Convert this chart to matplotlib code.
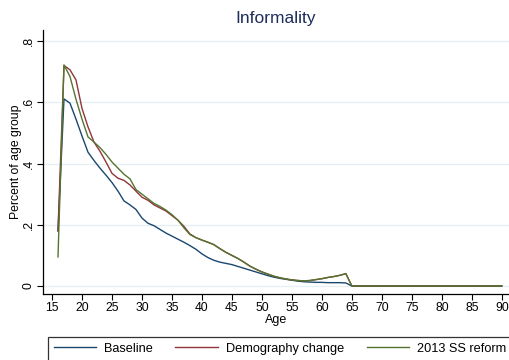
import matplotlib
matplotlib.use("Agg")
import matplotlib.pyplot as plt

plt.rcParams['font.family'] = ['Liberation Sans', 'DejaVu Sans']

ages = list(range(16, 91))

baseline = [0.180, 0.611, 0.597, 0.545, 0.490, 0.437, 0.410, 0.385, 0.362, 0.338,
            0.310, 0.278, 0.265, 0.250, 0.222, 0.205, 0.197, 0.185, 0.173, 0.163,
            0.153, 0.143, 0.132, 0.120, 0.105, 0.093, 0.084, 0.078, 0.074, 0.070,
            0.064, 0.058, 0.052, 0.046, 0.040, 0.034, 0.029, 0.025, 0.022, 0.019,
            0.016, 0.014, 0.013, 0.012, 0.012, 0.011, 0.011, 0.011, 0.010] + [0.0] * 26

demography = [0.180, 0.720, 0.706, 0.673, 0.580, 0.520, 0.470, 0.440, 0.405, 0.368,
              0.352, 0.345, 0.330, 0.310, 0.290, 0.280, 0.265, 0.255, 0.245, 0.230,
              0.215, 0.195, 0.170, 0.158, 0.150, 0.143, 0.135, 0.122, 0.110, 0.100,
              0.090, 0.078, 0.065, 0.055, 0.046, 0.039, 0.032, 0.027, 0.023, 0.020,
              0.018, 0.017, 0.018, 0.021, 0.024, 0.028, 0.031, 0.035, 0.040] + [0.0] * 26

reform = [0.095, 0.722, 0.684, 0.610, 0.545, 0.487, 0.470, 0.452, 0.430, 0.405,
          0.385, 0.365, 0.350, 0.315, 0.300, 0.285, 0.270, 0.260, 0.248, 0.233,
          0.215, 0.190, 0.168, 0.158, 0.150, 0.143, 0.135, 0.122, 0.110, 0.100,
          0.090, 0.078, 0.065, 0.055, 0.046, 0.039, 0.032, 0.027, 0.023, 0.020,
          0.018, 0.017, 0.018, 0.021, 0.024, 0.028, 0.031, 0.035, 0.041] + [0.0] * 26

series_labels = ["Baseline", "Demography change", "2013 SS reform"]
colors = ["#1a476f", "#90353b", "#55752f"]

x_ticks = list(range(15, 91, 5))
y_ticks = [0, 0.2, 0.4, 0.6, 0.8]
y_ticklabels = ["0", ".2", ".4", ".6", ".8"]

W, H = 509, 360
fig = plt.figure(figsize=(W / 100, H / 100), dpi=100)
ax = fig.add_axes([43 / W, 1 - 294 / H, 1 - 43 / W, 264 / H])

handles = []
for vals, lab, c in zip([baseline, demography, reform], series_labels, colors):
    h, = ax.plot(ages, vals, color=c, lw=1.0, label=lab)
    handles.append(h)

ax.set_xlim(13.5, 91.2)
ax.set_ylim(-0.026, 0.836)
ax.set_xticks(x_ticks)
ax.set_yticks(y_ticks)
ax.set_yticklabels(y_ticklabels, rotation=90, va='center')
ax.tick_params(axis='both', labelsize=8.7, length=4, width=0.8, color='black', pad=2)
ax.grid(axis='y', color='#e6eff1', lw=0.9)
ax.set_axisbelow(True)
for s in ['top', 'right']:
    ax.spines[s].set_visible(False)
for s in ['left', 'bottom']:
    ax.spines[s].set_linewidth(0.9)

ax.set_xlabel("Age", fontsize=9.0, labelpad=0)
ax.set_ylabel("Percent of age group", fontsize=8.8)
ax.yaxis.set_label_coords(-0.045, 0.5)

fig.text(276 / W, 1 - 18 / H, "Informality", ha='center', va='center',
         fontsize=12.5, color='#1e2d5a')

leg = fig.legend(handles, series_labels, ncol=3, loc='upper left',
                 bbox_to_anchor=(48 / W, 1 - 337 / H), frameon=True, fancybox=False,
                 edgecolor='black', fontsize=9.2, handlelength=3.3, handletextpad=0.65,
                 columnspacing=1.75, borderpad=0.45, borderaxespad=0)
leg.get_frame().set_linewidth(0.9)

fig.savefig("out.png", dpi=100)
